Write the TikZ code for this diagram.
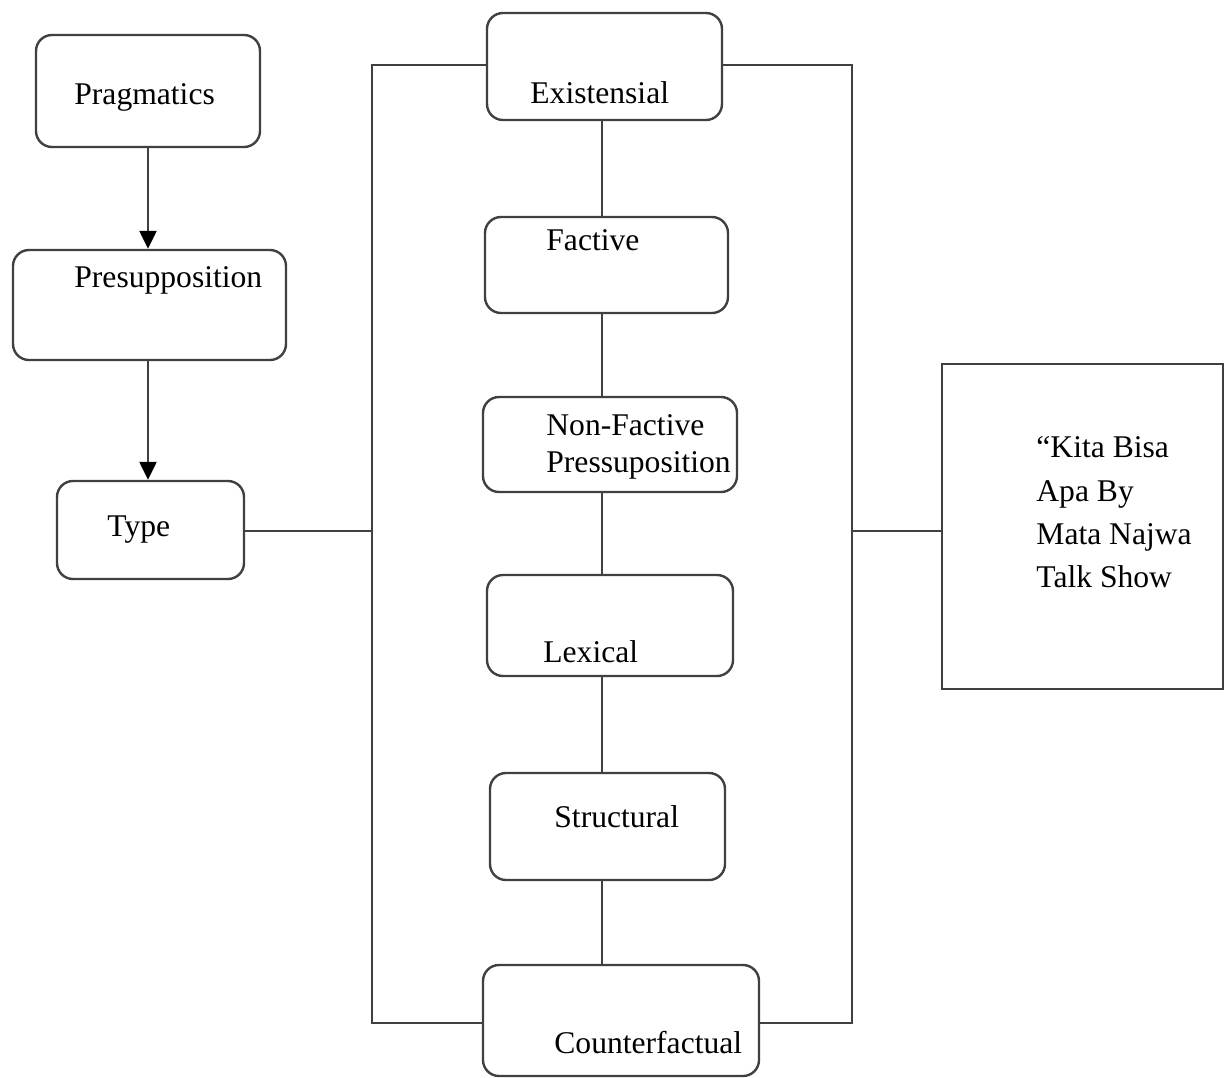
\documentclass[tikz,border=0pt]{standalone}
\usepackage{fontspec}
\setmainfont{Liberation Serif}
\usetikzlibrary{arrows.meta}
\definecolor{linec}{HTML}{404040}
\tikzset{
  rbox/.style={draw=linec, line width=1.2pt, rounded corners=8pt, inner sep=0pt},
  sbox/.style={draw=linec, line width=1.2pt, inner sep=0pt},
  lbl/.style={anchor=base west, inner sep=0pt, font=\fontsize{15.8}{19}\selectfont},
  conn/.style={draw=linec, line width=1.2pt},
  arr/.style={conn, -{Triangle[length=9pt,width=8.5pt,color=black]}}
}
\begin{document}
\begin{tikzpicture}[x=0.5pt,y=-0.5pt]
\useasboundingbox (0,0) rectangle (1227,1077);
% boxes
\node[rbox, minimum width=112pt, minimum height=56pt] (prag) at (148,91) {};
\node[rbox, minimum width=136.5pt, minimum height=55pt] (presup) at (149.5,305) {};
\node[rbox, minimum width=93.5pt, minimum height=49pt] (type) at (150.5,530) {};
\node[rbox, minimum width=117.5pt, minimum height=53.5pt] (exis) at (604.5,66.5) {};
\node[rbox, minimum width=121.5pt, minimum height=48pt] (fact) at (606.5,265) {};
\node[rbox, minimum width=127pt, minimum height=47.5pt] (nonf) at (610,444.5) {};
\node[rbox, minimum width=123pt, minimum height=50.5pt] (lex) at (610,625.5) {};
\node[rbox, minimum width=117.5pt, minimum height=53.5pt] (struc) at (607.5,826.5) {};
\node[rbox, minimum width=138pt, minimum height=55.5pt] (counter) at (621,1020.5) {};
\node[sbox, minimum width=140.5pt, minimum height=162.5pt] (kita) at (1082.5,526.5) {};
% labels
\node[lbl] (pragT) at (74,104) {Pragmatics};
\node[lbl] (presupT) at (74,287) {Presupposition};
\node[lbl] (typeT) at (107,536) {Type};
\node[lbl] (exisT) at (530,103) {Existensial};
\node[lbl] (factT) at (546,250) {Factive};
\node[lbl] (nonfT1) at (546,435) {Non-Factive};
\node[lbl] (nonfT2) at (546,472) {Pressuposition};
\node[lbl] (lexT) at (543,662) {Lexical};
\node[lbl] (strucT) at (554,827) {Structural};
\node[lbl] (counterT) at (554,1053) {Counterfactual};
\node[lbl] (kitaT1) at (1036,457) {“Kita Bisa};
\node[lbl] (kitaT2) at (1036,501) {Apa By};
\node[lbl] (kitaT3) at (1036,544) {Mata Najwa};
\node[lbl] (kitaT4) at (1036,587) {Talk Show};
% coordinates
\coordinate (tl) at (372,65);
\coordinate (bl) at (372,1023);
\coordinate (tr) at (852,65);
\coordinate (br) at (852,1023);
\coordinate (ml) at (372,531);
\coordinate (mr) at (852,531);
\coordinate (vx) at (602,0);
\coordinate (ax) at (148,0);
% arrows
\draw[arr] (prag.south -| ax) -- (presup.north -| ax);
\draw[arr] (presup.south -| ax) -- (type.north -| ax);
% bracket frame
\draw[conn] (tl -| exis.west) -- (tl) -- (bl) -- (bl -| counter.west);
\draw[conn] (tr -| exis.east) -- (tr) -- (br) -- (br -| counter.east);
\draw[conn] (type.east |- ml) -- (ml);
\draw[conn] (mr) -- (mr -| kita.west);
% vertical chain
\draw[conn] (exis.south -| vx) -- (fact.north -| vx);
\draw[conn] (fact.south -| vx) -- (nonf.north -| vx);
\draw[conn] (nonf.south -| vx) -- (lex.north -| vx);
\draw[conn] (lex.south -| vx) -- (struc.north -| vx);
\draw[conn] (struc.south -| vx) -- (counter.north -| vx);
\end{tikzpicture}
\end{document}
